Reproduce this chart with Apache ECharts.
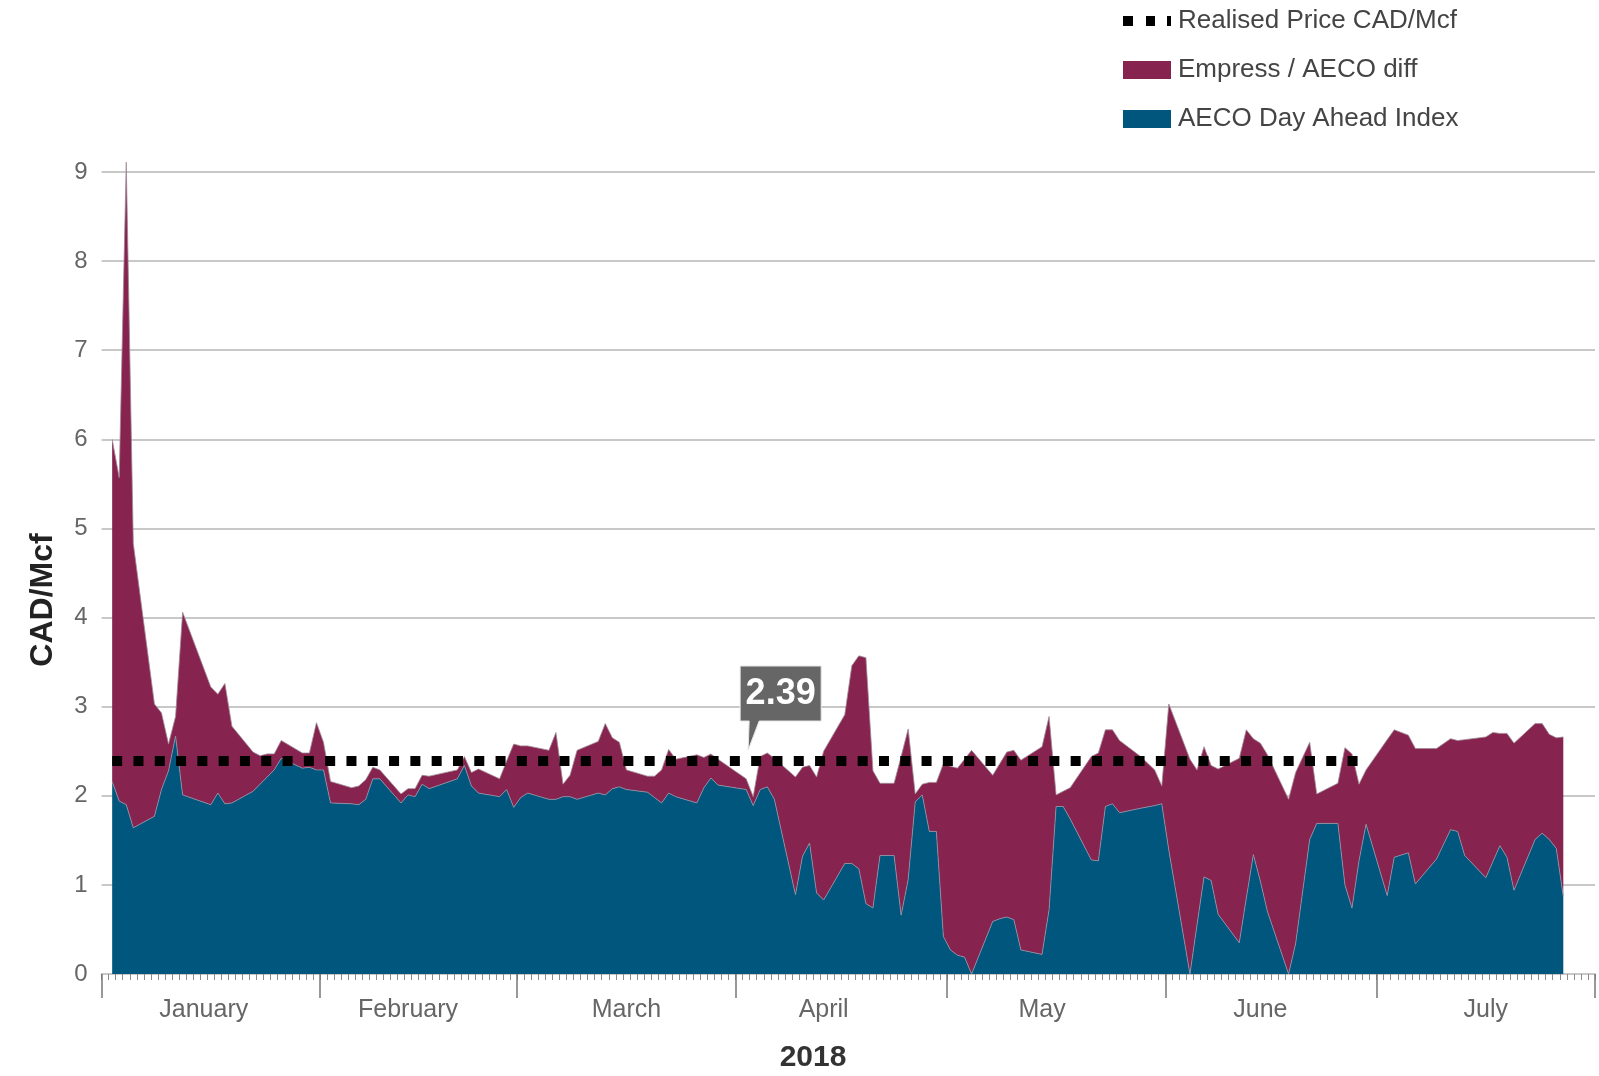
<!DOCTYPE html>
<html>
<head>
<meta charset="utf-8">
<script src="https://cdn.jsdelivr.net/npm/echarts@6/dist/echarts.min.js"></script>
<style>
html,body{margin:0;padding:0;background:#fff}
#chart{width:1599px;height:1076px}
</style>
</head>
<body>
<div id="chart"></div>
<script>
// trading days (2018, MM-DD)
var dates = [
	'01-02','01-03','01-04','01-05','01-08','01-09','01-10','01-11','01-12','01-16','01-17','01-18','01-19','01-22','01-23','01-24','01-25','01-26','01-29','01-30','01-31',
	'02-01','02-02','02-05','02-06','02-07','02-08','02-09','02-12','02-13','02-14','02-15','02-16','02-20','02-21','02-22','02-23','02-26','02-27','02-28',
	'03-01','03-02','03-05','03-06','03-07','03-08','03-09','03-12','03-13','03-14','03-15','03-16','03-19','03-20','03-21','03-22','03-23','03-26','03-27','03-28','03-29',
	'04-02','04-03','04-04','04-05','04-06','04-09','04-10','04-11','04-12','04-13','04-16','04-17','04-18','04-19','04-20','04-21','04-23','04-24','04-25','04-26','04-27','04-28','04-29','04-30',
	'05-01','05-02','05-03','05-04','05-07','05-08','05-09','05-10','05-11','05-14','05-15','05-16','05-17','05-18','05-21','05-22','05-23','05-24','05-25','05-28','05-30','05-31',
	'06-01','06-04','06-05','06-06','06-07','06-08','06-11','06-12','06-13','06-14','06-15','06-18','06-19','06-21','06-22','06-25','06-26','06-27','06-28','06-29',
	'07-02','07-03','07-05','07-06','07-09','07-11','07-12','07-13','07-16','07-17','07-18','07-19','07-20','07-23','07-24','07-25','07-26','07-27'
];
// AECO Day Ahead Index (CAD/Mcf)
var aeco = [
	2.16,1.94,1.90,1.64,1.77,2.07,2.28,2.67,2.01,1.90,2.03,1.91,1.92,2.05,2.13,2.21,2.29,2.42,2.31,2.32,2.29,
	2.29,1.92,1.91,1.90,1.96,2.19,2.19,1.92,2.01,1.99,2.13,2.08,2.19,2.34,2.11,2.03,1.99,2.07,1.87,
	1.98,2.03,1.96,1.96,1.99,1.99,1.96,2.03,2.01,2.08,2.10,2.07,2.04,1.98,1.92,2.03,1.99,1.92,2.09,2.20,2.12,
	2.07,1.89,2.07,2.10,1.96,0.89,1.32,1.47,0.91,0.83,1.24,1.24,1.18,0.79,0.74,1.33,1.33,0.66,1.06,1.93,2.01,1.60,1.60,0.42,
	0.27,0.21,0.19,0.00,0.59,0.62,0.64,0.61,0.27,0.22,0.72,1.88,1.88,1.74,1.28,1.27,1.88,1.91,1.81,1.86,1.89,1.91,
	1.39,0.00,0.55,1.09,1.05,0.67,0.35,0.85,1.34,1.04,0.70,0.00,0.34,1.51,1.69,1.69,1.00,0.74,1.27,1.68,
	0.88,1.31,1.36,1.01,1.29,1.62,1.60,1.33,1.08,1.26,1.44,1.31,0.94,1.51,1.58,1.51,1.41,0.87
];
// Empress / AECO diff (CAD/Mcf)
var diff = [
	3.84,3.63,7.21,3.19,1.26,0.86,0.30,0.22,2.05,1.32,1.11,1.35,0.86,0.44,0.32,0.26,0.18,0.20,0.17,0.16,0.53,
	0.31,0.24,0.18,0.21,0.22,0.13,0.10,0.10,0.07,0.09,0.10,0.14,0.10,0.10,0.15,0.27,0.20,0.32,0.71,
	0.58,0.53,0.55,0.75,0.14,0.24,0.55,0.58,0.80,0.57,0.50,0.22,0.18,0.24,0.37,0.49,0.42,0.54,0.34,0.27,0.29,
	0.12,0.10,0.37,0.38,0.46,1.32,1.00,0.87,1.30,1.67,1.67,2.22,2.39,2.76,1.54,0.81,0.81,1.78,1.69,0.09,0.12,0.55,0.55,1.94,
	2.06,2.10,2.22,2.51,1.64,1.74,1.85,1.90,2.13,2.33,2.17,0.13,0.17,0.35,1.16,1.21,0.86,0.83,0.81,0.58,0.40,0.20,
	1.64,2.41,1.74,1.46,1.29,1.63,2.07,1.89,1.30,1.55,1.76,1.96,1.92,1.09,0.33,0.45,1.54,1.73,0.86,0.61,
	1.75,1.43,1.32,1.52,1.24,1.02,1.02,1.30,1.58,1.45,1.26,1.39,1.65,1.30,1.23,1.18,1.24,1.79
];
var realisedPrice = 2.39;
var realisedFrom = '01-02';
var realisedTo = '06-28';
var calloutDay = '04-02';
// month names and the day slot each name is written under
var monthNames = ['January','February','March','April','May','June','July'];
var monthLabelDays = ['01-15','02-13','03-16','04-13','05-14','06-14','07-16'];

var FONT = "'Liberation Sans', Arial, sans-serif";
var NARROW = "'Liberation Sans Narrow', 'Liberation Sans', sans-serif";
var BLUE = '#00567C';
var MAROON = '#86234E';

function pad(n){ return (n < 10 ? '0' : '') + n; }

// every calendar day Jan 1 - Jul 31 is one slot on the axis
var days = [];
var cur = new Date(Date.UTC(2018, 0, 1));
while(cur.getUTCMonth() < 7){
	days.push(pad(cur.getUTCMonth() + 1) + '-' + pad(cur.getUTCDate()));
	cur.setUTCDate(cur.getUTCDate() + 1);
}

// [day, value] pairs, only for the trading days
function pairs(arr){
	var out = [];
	for(var i=0; i<dates.length; i++){
		out.push([dates[i], arr[i]]);
	}
	return out;
}

var chart = echarts.init(document.getElementById('chart'));

var option = {
	animation: false,
	backgroundColor: '#fff',
	grid: { left: 101.6, right: 4, top: 172, bottom: 102 },
	legend: {
		orient: 'vertical',
		left: 1123,
		top: 8,
		padding: 0,
		itemWidth: 48,
		itemHeight: 18,
		itemGap: 23,
		selectedMode: false,
		itemStyle: { borderWidth: 0 },
		textStyle: { fontFamily: FONT, fontSize: 26, color: '#444', lineHeight: 26, padding: [0, 0, 0, 2] },
		data: [
			{ name: 'Realised Price CAD/Mcf', icon: 'path://M0,0L0,0ZM48,18L48,18ZM0,4h10v10h-10zM23,4h9v10h-9zM44,4h4v10h-4z', itemStyle: { color: '#000', borderWidth: 0 } },
			{ name: 'Empress / AECO diff', icon: 'rect', itemStyle: { color: MAROON, borderWidth: 0 } },
			{ name: 'AECO Day Ahead Index', icon: 'rect', itemStyle: { color: BLUE, borderWidth: 0 } }
		]
	},
	xAxis: [
		{
			type: 'category',
			data: days,
			boundaryGap: true,
			axisLine: { show: true, lineStyle: { color: '#c8c8c8', width: 2 } },
			axisTick: { show: true, interval: 0, length: 6, lineStyle: { color: '#8c8c8c', width: 1 } },
			axisLabel: {
				interval: function(idx, v){ return monthLabelDays.indexOf(v) >= 0; },
				formatter: function(v){ return monthNames[parseInt(v.slice(0, 2), 10) - 1]; },
				margin: 24,
				fontFamily: FONT,
				fontSize: 25,
				color: '#666'
			},
			splitLine: { show: false }
		},
		{
			// second axis only to draw the long month ticks
			type: 'category',
			data: days,
			boundaryGap: true,
			position: 'bottom',
			axisLine: { show: false },
			axisTick: {
				show: true,
				interval: function(idx, v){ return v.slice(3) === '01'; },
				length: 24,
				lineStyle: { color: '#777', width: 1.5 }
			},
			axisLabel: { show: false },
			splitLine: { show: false }
		}
	],
	yAxis: {
		type: 'value',
		min: 0,
		max: 9,
		interval: 1,
		axisLine: { show: false },
		axisTick: { show: false },
		axisLabel: { margin: 14, fontFamily: FONT, fontSize: 24, color: '#666' },
		splitLine: { show: true, lineStyle: { color: '#c8c8c8', width: 2, type: 'solid' } }
	},
	series: [
		{
			name: 'AECO Day Ahead Index',
			type: 'line',
			stack: 'price',
			data: pairs(aeco),
			symbol: 'none',
			clip: false,
			silent: true,
			itemStyle: { color: BLUE },
			lineStyle: { width: 0.8, color: '#8f95a8' },
			areaStyle: { color: BLUE, opacity: 1 },
			z: 2
		},
		{
			name: 'Empress / AECO diff',
			type: 'line',
			stack: 'price',
			data: pairs(diff),
			symbol: 'none',
			clip: false,
			silent: true,
			itemStyle: { color: MAROON },
			lineStyle: { width: 0.8, color: '#a08a98' },
			areaStyle: { color: MAROON, opacity: 1 },
			z: 2
		},
		{
			name: 'Realised Price CAD/Mcf',
			type: 'line',
			data: [[realisedFrom, realisedPrice], [realisedTo, realisedPrice]],
			symbol: 'none',
			silent: true,
			itemStyle: { color: '#000' },
			lineStyle: { color: '#000', width: 10, type: [10, 11.3], cap: 'butt' },
			z: 5
		}
	]
};
chart.setOption(option);

// callout for the realised price, anchored through the chart's own scales
var tip = chart.convertToPixel({ xAxisIndex: 0, yAxisIndex: 0 }, [days.indexOf(calloutDay), realisedPrice]);
var tx = tip[0] + 2, ty = tip[1] - 11;

chart.setOption({
	graphic: [
		{
			type: 'polygon',
			shape: { points: [[tx-8, ty-84], [tx+73, ty-84], [tx+73, ty-29], [tx+11, ty-29], [tx, ty], [tx+1, ty-29], [tx-8, ty-29]] },
			style: { fill: '#666', stroke: '#e6e6e6', lineWidth: 1 },
			z: 100
		},
		{
			type: 'text',
			x: tx + 32.5,
			y: ty - 56,
			style: { text: String(realisedPrice), fill: '#fff', font: 'bold 36px ' + NARROW, align: 'center', verticalAlign: 'middle' },
			z: 101
		},
		{
			type: 'text',
			x: 43,
			y: 600,
			rotation: Math.PI / 2,
			style: { text: 'CAD/Mcf', fill: '#222', font: 'bold 32px ' + NARROW, align: 'center', verticalAlign: 'middle' },
			z: 100
		},
		{
			type: 'text',
			x: 813,
			y: 1058,
			style: { text: '2018', fill: '#333', font: 'bold 30px ' + NARROW, align: 'center', verticalAlign: 'middle' },
			z: 100
		}
	]
});
</script>
</body>
</html>
